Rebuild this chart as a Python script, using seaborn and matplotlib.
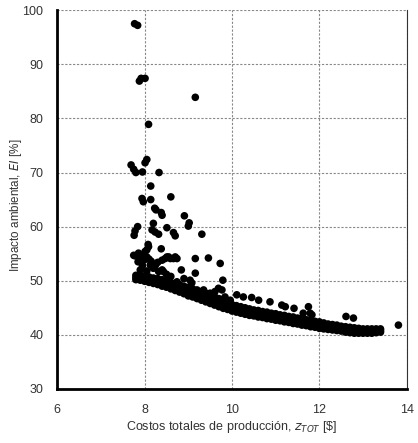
import numpy as np
import pandas as pd
import seaborn as sns
import matplotlib.pyplot as plt

# frente principal (banda densa): x y tres niveles de EI
frente_x = [7.8, 7.9, 8.0, 8.1, 8.2, 8.3, 8.4, 8.5, 8.6, 8.7, 8.8, 8.9, 9.0, 9.1, 9.2,
            9.3, 9.4, 9.5, 9.6, 9.7, 9.8, 9.9, 10.0, 10.1, 10.2, 10.3, 10.4, 10.5, 10.6,
            10.7, 10.8, 10.9, 11.0, 11.1, 11.2, 11.3, 11.4, 11.5, 11.6, 11.7, 11.8, 11.9,
            12.0, 12.1, 12.2, 12.3, 12.4, 12.5, 12.6, 12.7, 12.8, 12.9, 13.0, 13.1, 13.2,
            13.3, 13.4]
frente_inf = [50.2, 50.1, 49.9, 49.7, 49.5, 49.3, 49.0, 48.8, 48.5, 48.2, 47.9, 47.6, 47.2,
              47.0, 46.7, 46.4, 46.1, 45.8, 45.5, 45.2, 44.9, 44.7, 44.4, 44.2, 44.0, 43.8,
              43.6, 43.5, 43.3, 43.2, 43.0, 42.9, 42.7, 42.6, 42.4, 42.3, 42.1, 42.0, 41.8,
              41.7, 41.5, 41.4, 41.2, 41.1, 41.0, 40.9, 40.8, 40.7, 40.5, 40.4, 40.3, 40.3,
              40.3, 40.3, 40.3, 40.4, 40.5]
frente_med = [50.6, 50.5, 50.4, 50.2, 50.0, 49.8, 49.6, 49.4, 49.1, 48.9, 48.6, 48.3, 48.0,
              47.8, 47.5, 47.2, 46.9, 46.6, 46.3, 45.9, 45.6, 45.3, 45.0, 44.8, 44.6, 44.4,
              44.2, 44.0, 43.9, 43.7, 43.6, 43.4, 43.3, 43.1, 43.0, 42.8, 42.7, 42.5, 42.4,
              42.2, 42.1, 41.9, 41.8, 41.6, 41.5, 41.4, 41.3, 41.1, 41.0, 40.9, 40.8, 40.7,
              40.7, 40.7, 40.7, 40.8, 40.8]
frente_sup = [51.0, 51.0, 50.9, 50.7, 50.5, 50.4, 50.2, 50.0, 49.7, 49.5, 49.3, 49.0, 48.8,
              48.5, 48.3, 48.0, 47.7, 47.4, 47.1, 46.7, 46.3, 45.9, 45.6, 45.4, 45.2, 45.0,
              44.8, 44.6, 44.5, 44.3, 44.2, 44.0, 43.9, 43.7, 43.6, 43.4, 43.3, 43.1, 43.0,
              42.8, 42.7, 42.5, 42.4, 42.2, 42.0, 41.9, 41.8, 41.6, 41.5, 41.4, 41.3, 41.2,
              41.1, 41.1, 41.1, 41.1, 41.1]

# soluciones dispersas por encima del frente
disp_x = [7.77, 7.84, 7.88, 7.92, 8.01, 9.16, 8.09, 8.05, 8.01, 7.69, 7.75, 7.80, 7.95,
          8.33, 8.14, 8.60, 7.94, 8.14, 7.97, 8.23, 8.26, 8.38, 8.40, 8.91, 9.02, 9.00,
          7.84, 7.78, 7.76, 8.20, 8.17, 8.24, 8.32, 8.51, 8.66, 8.70, 9.31, 8.08, 8.38,
          8.01, 7.97, 7.90, 7.78, 8.05, 8.51, 8.66, 9.16, 9.46, 8.40, 8.59, 8.70, 9.73,
          8.84, 8.40, 9.16, 9.79, 9.77, 8.09, 8.05, 7.75, 7.86, 8.13, 8.20, 8.32, 8.43,
          8.47, 8.55, 8.74, 8.74, 9.04, 9.08, 9.35, 9.50, 9.69, 9.61, 9.84, 9.96, 10.11,
          10.26, 10.45, 10.61, 10.87, 11.14, 11.22, 11.42, 11.75, 11.79, 11.63, 11.83,
          12.61, 12.78, 13.81, 7.85, 7.95, 8.00, 8.10, 7.90, 8.05, 8.15, 8.25, 8.30, 8.60,
          8.90, 8.50]
disp_y = [97.5, 97.2, 86.9, 87.4, 87.4, 83.9, 78.9, 72.4, 71.8, 71.4, 70.6, 70.0, 70.1,
          70.0, 67.5, 65.5, 65.2, 65.0, 64.6, 63.4, 63.1, 62.6, 62.1, 62.0, 60.7, 60.1,
          60.0, 59.2, 58.4, 60.6, 59.4, 59.0, 58.6, 59.8, 58.9, 58.3, 58.6, 56.7, 55.9,
          55.4, 54.7, 54.4, 54.6, 54.4, 54.4, 54.1, 54.1, 54.2, 53.8, 54.1, 54.4, 53.2,
          52.0, 52.0, 51.4, 50.1, 48.3, 56.3, 55.7, 54.7, 55.1, 52.9, 52.3, 51.7, 51.7,
          54.1, 54.4, 54.1, 49.8, 50.1, 49.6, 48.3, 47.7, 48.6, 48.0, 47.0, 46.4, 47.4,
          47.0, 46.9, 46.4, 46.1, 45.5, 45.2, 44.9, 45.2, 44.0, 44.0, 43.7,
          43.4, 43.1, 41.8, 53.5, 52.8, 53.9, 54.0, 52.0, 51.8, 53.6, 52.9, 53.4, 50.8,
          50.4, 51.2]

x_all = frente_x * 3 + disp_x
y_all = frente_inf + frente_med + frente_sup + disp_y
datos = pd.DataFrame({"costo": x_all, "impacto": y_all})

sns.set_style("white")
plt.rcParams['font.family'] = ['Liberation Sans', 'DejaVu Sans']

fig = plt.figure(figsize=(4.18, 4.43), dpi=100)
ax = fig.add_axes([0.137, 0.122, 0.836, 0.855])

sns.scatterplot(data=datos, x="costo", y="impacto", color="black", s=30,
                edgecolor="none", ax=ax, zorder=3)

ax.set_xlim(6, 14)
ax.set_ylim(30, 100)
ax.set_xticks([6, 8, 10, 12, 14])
ax.set_yticks([30, 40, 50, 60, 70, 80, 90, 100])
ax.grid(True, color="#888888", linestyle=(0, (2, 1.5)), linewidth=0.8)
ax.tick_params(direction="in", length=3, width=0.8, color="#222222",
               labelsize=9, labelcolor="#333333")
ax.tick_params(axis="x", pad=11)
ax.tick_params(axis="y", pad=10)

for lado in ["left", "bottom"]:
    ax.spines[lado].set_color("black")
    ax.spines[lado].set_linewidth(2)
ax.spines["right"].set_color("#333333")
ax.spines["right"].set_linewidth(0.8)
ax.spines["top"].set_visible(False)

ax.set_xlabel(r"Costos totales de producción, $z_{TOT}$ [\$]", fontsize=9,
              color="#333333", labelpad=2)
ax.set_ylabel(r"Impacto ambiental, $EI$ [%]", fontsize=8.4, color="#333333")
ax.yaxis.set_label_coords(-0.094, 0.486)

fig.savefig("out.png", dpi=100)
